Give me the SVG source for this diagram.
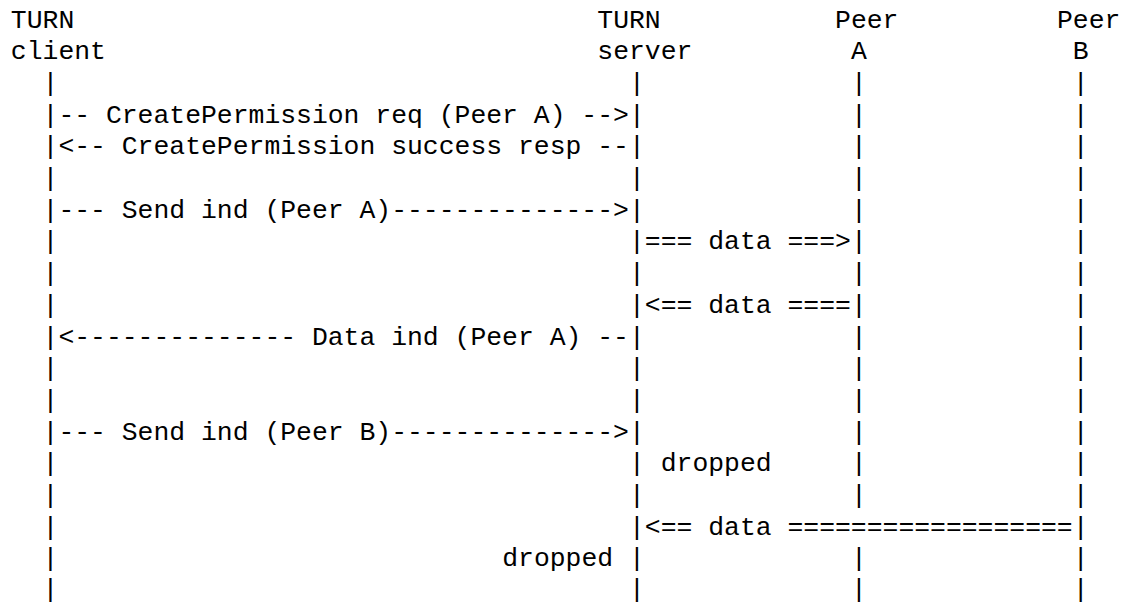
<svg xmlns="http://www.w3.org/2000/svg" width="1122" height="603" viewBox="0 0 1122 603">
<style>
text{font-family:"Liberation Mono","Courier New",monospace;font-size:26.41px;fill:#000;white-space:pre}
</style>
<rect width="1122" height="603" fill="#fff"/>
<g id="client">
<text x="10.85" y="27.5">TURN</text>
<text x="10.85" y="59.2">client</text>
<text><tspan x="42.55" y="90.9">|</tspan><tspan x="42.55" y="122.6">|</tspan><tspan x="42.55" y="154.3">|</tspan><tspan x="42.55" y="186.0">|</tspan><tspan x="42.55" y="217.7">|</tspan><tspan x="42.55" y="249.4">|</tspan><tspan x="42.55" y="281.1">|</tspan><tspan x="42.55" y="312.8">|</tspan><tspan x="42.55" y="344.5">|</tspan><tspan x="42.55" y="376.2">|</tspan><tspan x="42.55" y="407.9">|</tspan><tspan x="42.55" y="439.6">|</tspan><tspan x="42.55" y="471.3">|</tspan><tspan x="42.55" y="503.0">|</tspan><tspan x="42.55" y="534.7">|</tspan><tspan x="42.55" y="566.4">|</tspan><tspan x="42.55" y="596.8">|</tspan></text>
</g>
<g id="server">
<text x="597.30" y="27.5">TURN</text>
<text x="597.30" y="59.2">server</text>
<text><tspan x="629.00" y="90.9">|</tspan><tspan x="629.00" y="122.6">|</tspan><tspan x="629.00" y="154.3">|</tspan><tspan x="629.00" y="186.0">|</tspan><tspan x="629.00" y="217.7">|</tspan><tspan x="629.00" y="249.4">|</tspan><tspan x="629.00" y="281.1">|</tspan><tspan x="629.00" y="312.8">|</tspan><tspan x="629.00" y="344.5">|</tspan><tspan x="629.00" y="376.2">|</tspan><tspan x="629.00" y="407.9">|</tspan><tspan x="629.00" y="439.6">|</tspan><tspan x="629.00" y="471.3">|</tspan><tspan x="629.00" y="503.0">|</tspan><tspan x="629.00" y="534.7">|</tspan><tspan x="629.00" y="566.4">|</tspan><tspan x="629.00" y="596.8">|</tspan></text>
</g>
<g id="peerA">
<text x="835.05" y="27.5">Peer</text>
<text x="850.90" y="59.2">A</text>
<text><tspan x="850.90" y="90.9">|</tspan><tspan x="850.90" y="122.6">|</tspan><tspan x="850.90" y="154.3">|</tspan><tspan x="850.90" y="186.0">|</tspan><tspan x="850.90" y="217.7">|</tspan><tspan x="850.90" y="249.4">|</tspan><tspan x="850.90" y="281.1">|</tspan><tspan x="850.90" y="312.8">|</tspan><tspan x="850.90" y="344.5">|</tspan><tspan x="850.90" y="376.2">|</tspan><tspan x="850.90" y="407.9">|</tspan><tspan x="850.90" y="439.6">|</tspan><tspan x="850.90" y="471.3">|</tspan><tspan x="850.90" y="503.0">|</tspan><tspan x="850.90" y="566.4">|</tspan><tspan x="850.90" y="596.8">|</tspan></text>
</g>
<g id="peerB">
<text x="1056.95" y="27.5">Peer</text>
<text x="1072.80" y="59.2">B</text>
<text><tspan x="1072.80" y="90.9">|</tspan><tspan x="1072.80" y="122.6">|</tspan><tspan x="1072.80" y="154.3">|</tspan><tspan x="1072.80" y="186.0">|</tspan><tspan x="1072.80" y="217.7">|</tspan><tspan x="1072.80" y="249.4">|</tspan><tspan x="1072.80" y="281.1">|</tspan><tspan x="1072.80" y="312.8">|</tspan><tspan x="1072.80" y="344.5">|</tspan><tspan x="1072.80" y="376.2">|</tspan><tspan x="1072.80" y="407.9">|</tspan><tspan x="1072.80" y="439.6">|</tspan><tspan x="1072.80" y="471.3">|</tspan><tspan x="1072.80" y="503.0">|</tspan><tspan x="1072.80" y="534.7">|</tspan><tspan x="1072.80" y="566.4">|</tspan><tspan x="1072.80" y="596.8">|</tspan></text>
</g>
<g id="connectors">
<text x="58.40" y="122.6">-- CreatePermission req (Peer A) --&gt;</text>
<text x="58.40" y="154.3">&lt;-- CreatePermission success resp --</text>
<text x="58.40" y="217.7">--- Send ind (Peer A)--------------&gt;</text>
<text x="644.85" y="249.4">=== data ===&gt;</text>
<text x="644.85" y="312.8">&lt;== data ====</text>
<text x="58.40" y="344.5">&lt;-------------- Data ind (Peer A) --</text>
<text x="58.40" y="439.6">--- Send ind (Peer B)--------------&gt;</text>
<text x="660.70" y="471.3">dropped</text>
<text x="644.85" y="534.7">&lt;== data ==================</text>
<text x="502.20" y="566.4">dropped</text>
</g>
</svg>
